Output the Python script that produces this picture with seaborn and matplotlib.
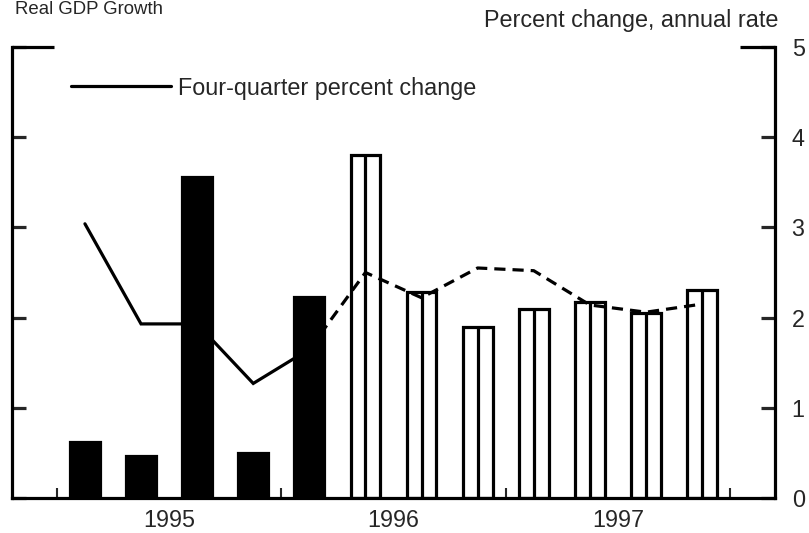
import numpy as np
import pandas as pd
import matplotlib
matplotlib.use("Agg")
import matplotlib.pyplot as plt
import seaborn as sns

# data
quarters = ["1995Q1", "1995Q2", "1995Q3", "1995Q4",
            "1996Q1", "1996Q2", "1996Q3", "1996Q4",
            "1997Q1", "1997Q2", "1997Q3", "1997Q4"]
gdp_growth = [0.62, 0.47, 3.56, 0.50, 2.23, 3.80, 2.28, 1.90, 2.10, 2.17, 2.05, 2.31]
kind = ["actual"] * 5 + ["projected"] * 7
four_q_actual = [3.04, 1.93, 1.93, 1.27, 1.65]
four_q_proj = [1.65, 2.50, 2.22, 2.55, 2.52, 2.14, 2.06, 2.15]
year_labels = ["1995", "1996", "1997"]
y_ticks = [0, 1, 2, 3, 4, 5]

df = pd.DataFrame({"quarter": quarters, "gdp": gdp_growth, "kind": kind})
pos = np.arange(len(quarters))
n_act = len(four_q_actual)

sns.set_style("white")
plt.rcParams["font.family"] = ["Liberation Sans", "DejaVu Sans"]
fs = 16.8
lw = 2.3

fig = plt.figure(figsize=(8.09, 5.33), dpi=100)
ax = fig.add_axes([12 / 809, 35 / 533, 763 / 809, 451 / 533])

sns.barplot(data=df, x="quarter", y="gdp", hue="kind", order=quarters,
            palette={"actual": "black", "projected": "white"}, dodge=False,
            width=0.53, edgecolor="black", linewidth=lw, legend=False, ax=ax)
# centre rule inside the projected bars
proj = df["kind"] == "projected"
ax.vlines(pos[proj], 0, df.loc[proj, "gdp"], color="black", lw=lw)

# four-quarter percent change
line, = ax.plot(pos[:n_act], four_q_actual, color="black", lw=lw,
                label="Four-quarter percent change", solid_joinstyle="miter")
ax.plot(pos[n_act - 1:], four_q_proj, color="black", lw=lw,
        linestyle=(0, (3.5, 2.2)))

ax.set_xlim(-1.30, 12.30)
ax.set_ylim(0, 5)
ax.set_xlabel("")
ax.set_ylabel("")

# axes frame
for s in ["left", "right", "bottom"]:
    ax.spines[s].set_linewidth(lw)
    ax.spines[s].set_color("black")
ax.spines["top"].set_visible(False)
ax.plot([0, 42 / 763], [1, 1], transform=ax.transAxes, color="black",
        lw=lw, clip_on=False, solid_capstyle="butt")
ax.plot([1 - 35 / 763, 1], [1, 1], transform=ax.transAxes, color="black",
        lw=lw, clip_on=False, solid_capstyle="butt")

ax.set_yticks(y_ticks)
ax.set_yticklabels([str(t) for t in y_ticks])
ax.tick_params(axis="y", left=True, right=True, labelleft=False,
               labelright=True, direction="in", length=10, width=lw,
               labelsize=fs, pad=12)

ax.set_xticks([1.5, 5.5, 9.5])
ax.set_xticklabels(year_labels)
ax.set_xticks([-0.5, 3.5, 7.5, 11.5], minor=True)
ax.tick_params(axis="x", which="major", length=0, labelsize=fs, pad=8)
ax.tick_params(axis="x", which="minor", bottom=True, direction="in",
               length=7, width=1.5)

ax.legend(handles=[line], loc="center left",
          bbox_to_anchor=((71 - 12) / 763, (498 - 88) / 451),
          frameon=False, fontsize=fs, handlelength=4.3, handletextpad=0.3,
          borderpad=0, borderaxespad=0)

fig.text(778 / 809, 1 - 20 / 533, "Percent change, annual rate",
         ha="right", va="center", fontsize=fs)
fig.text(15 / 809, 1 - 1 / 533, "Real GDP Growth", ha="left",
         va="top", fontsize=fs * 0.8)

fig.savefig("out.png", dpi=100)
